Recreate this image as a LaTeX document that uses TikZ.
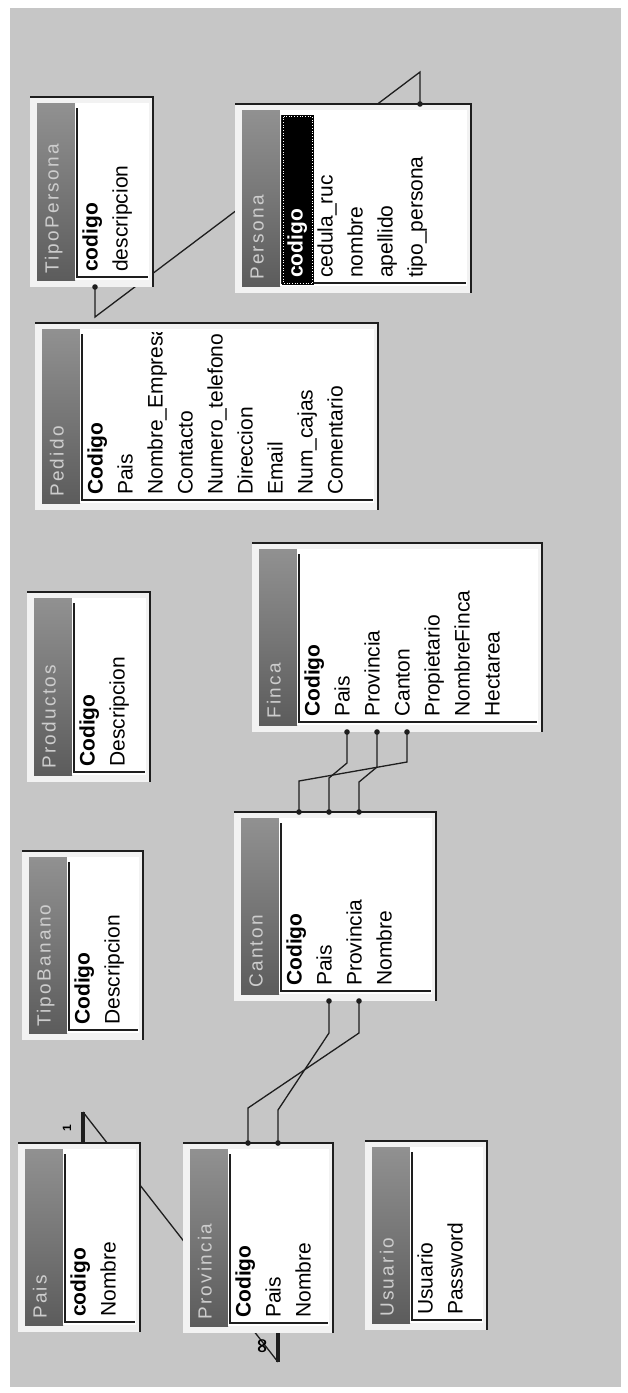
\documentclass[tikz,border=0pt]{standalone}
\usepackage{fontspec}
\setmainfont{Liberation Sans}
\newfontfamily\titlefont[LetterSpace=12]{Liberation Sans}
\newfontfamily\symbfont{DejaVu Sans}
\pgfdeclarelayer{back}
\pgfdeclarelayer{lines}
\pgfsetlayers{back,lines,main}
\definecolor{bggray}{RGB}{198,198,198}
\definecolor{boxlight}{RGB}{242,242,242}
\definecolor{titledark}{RGB}{92,92,92}
\definecolor{titlelight}{RGB}{145,145,145}
\definecolor{titlefg}{RGB}{205,205,205}
\definecolor{linecol}{RGB}{30,30,30}
\tikzset{
  tablebox/.style={fill=boxlight, draw=none, inner sep=0pt, outer sep=0pt},
  frameline/.style={line width=2.5pt, draw=linecol},
  innerline/.style={line width=1.6pt, draw=linecol},
  fieldtext/.style={rotate=90, anchor=mid west, inner sep=0pt, font=\fontsize{21}{23}\selectfont, text=black},
  titletext/.style={rotate=90, anchor=mid west, inner sep=0pt, font=\titlefont\fontsize{19}{22}\selectfont, text=titlefg},
  rel/.style={line width=1.3pt, draw=linecol},
  relthick/.style={line width=4pt, draw=linecol},
  reldot/.style={fill=linecol, draw=none},
}
% #1 name, #2 L, #3 T, #4 R, #5 B, #6 title, #7 fields, #8 extra
\newcommand\dbtable[8]{%
  \node[tablebox, anchor=north west, minimum width={(#4-#2)*1pt}, minimum height={(#5-#3)*1pt}] (#1) at (#2,#3) {};
  \shade[top color=titlelight, bottom color=titledark] ({#2+7},{#3+6}) rectangle ({#2+45},{#5-7});
  \fill[white] ({#2+45},{#3+6}) rectangle ({#4-4},{#5-7});
  \draw[innerline] ({#2+47},{#3+11}) -- ({#2+47},{#5-10}) -- ({#4-5},{#5-10});
  \draw[frameline] (#1.north west) -- (#1.north east) -- (#1.south east);
  \node[titletext] (#1-title) at ({#2+26},{#5-13}) {#6};
  #8
  \begin{scope}
    \clip ({#2+49},{#3+9}) rectangle ({#4-5},{#5-11});
    \foreach \f [count=\i from 0] in {#7} {
      \node[fieldtext] (#1-\i) at ({#2+65+30*\i},{#5-15}) {\f};
      \coordinate (#1-f\i) at ({#2+65+30*\i},{#5});
    }
  \end{scope}
}
\begin{document}
\begin{tikzpicture}[x=1pt, y=-1pt]
\useasboundingbox (0,0) rectangle (627,1393);
\begin{pgfonlayer}{back}
  \fill[white] (0,0) rectangle (627,1393);
  \fill[bggray] (10,8) rectangle (621,1387);
\end{pgfonlayer}

\dbtable{pais}{18}{1143}{140}{1332}{Pais}{{\bfseries codigo},Nombre}{}
\dbtable{provincia}{183}{1143}{333}{1333}{Provincia}{{\bfseries Codigo},Pais,Nombre}{}
\dbtable{usuario}{365}{1141}{487}{1330}{Usuario}{Usuario,Password}{}
\dbtable{tipobanano}{22}{851}{143}{1040}{TipoBanano}{{\bfseries Codigo},Descripcion}{}
\dbtable{canton}{234}{812}{436}{1001}{Canton}{{\bfseries Codigo},Pais,Provincia,Nombre}{}
\dbtable{productos}{27}{592}{150}{782}{Productos}{{\bfseries Codigo},Descripcion}{}
\dbtable{finca}{252}{543}{542}{732}{Finca}{{\bfseries Codigo},Pais,Provincia,Canton,Propietario,NombreFinca,Hectarea}{}
\dbtable{pedido}{35}{323}{378}{510}{Pedido}{{\bfseries Codigo},Pais,Nombre\_Empresa,Contacto,Numero\_telefono,Direccion,Email,Num\_cajas,Comentario}{}
\dbtable{tipopersona}{30}{97}{153}{287}{TipoPersona}{{\bfseries codigo},descripcion}{}
\dbtable{persona}{235}{104}{471}{293}{Persona}{{\color{white}\bfseries codigo},cedula\_ruc,nombre,apellido,tipo\_persona}{%
  \fill[black] (282,115) rectangle (314,285);
  \draw[white, dotted, line width=0.7pt] (283.5,116.5) rectangle (312.5,283.5);}

% relationship paths
\path (pais.north -| pais-f0) coordinate (r1s) ++(0,-31) coordinate (r1a);
\path (provincia.south -| provincia-f1) coordinate (r1e) ++(0,29) coordinate (r1b);
\path (provincia.north -| provincia-f0) coordinate (r2s) ++(0,-35) coordinate (r2a);
\path (canton.south -| canton-f2) coordinate (r2e) ++(0,32) coordinate (r2b);
\path (provincia.north -| provincia-f1) coordinate (r3s) ++(0,-33) coordinate (r3a);
\path (canton.south -| canton-f1) coordinate (r3e) ++(0,32) coordinate (r3b);
\path (canton.north -| canton-f0) coordinate (r4s) ++(0,-31) coordinate (r4a);
\path (finca.south -| finca-f3) coordinate (r4e) ++(0,30) coordinate (r4b);
\path (canton.north -| canton-f1) coordinate (r5s) ++(0,-34) coordinate (r5a);
\path (finca.south -| finca-f1) coordinate (r5e) ++(0,31) coordinate (r5b);
\path (canton.north -| canton-f2) coordinate (r6s) ++(0,-30) coordinate (r6a);
\path (finca.south -| finca-f2) coordinate (r6e) ++(0,35) coordinate (r6b);
\path (tipopersona.south -| tipopersona-f0) coordinate (r7s) ++(0,30) coordinate (r7a);
\path (persona.north -| persona-f4) coordinate (r7e) ++(0,-32) coordinate (r7b);

\begin{pgfonlayer}{lines}
  \draw[relthick] (r1s) -- (r1a);
  \draw[rel] (r1a) -- (r1b);
  \draw[relthick] (r1e) -- (r1b);
  \draw[rel] (r2s) -- (r2a) -- (r2b) -- (r2e);
  \draw[rel] (r3s) -- (r3a) -- (r3b) -- (r3e);
  \draw[rel] (r4s) -- (r4a) -- (r4b) -- (r4e);
  \draw[rel] (r5s) -- (r5a) -- (r5b) -- (r5e);
  \draw[rel] (r6s) -- (r6a) -- (r6b) -- (r6e);
  \draw[rel] (r7s) -- (r7a) -- (r7b) -- (r7e);
\end{pgfonlayer}

\foreach \pt in {r2s,r2e,r3s,r3e,r4s,r4e,r5s,r5e,r6s,r6e,r7s,r7e}
  \fill[reldot] (\pt) circle (2.8pt);

\node[rotate=90, inner sep=0pt, font=\bfseries\fontsize{12}{12}\selectfont] (onelbl) at (67,1128) {1};
\node[rotate=90, inner sep=0pt, font=\symbfont\bfseries\fontsize{20}{20}\selectfont] (manylbl) at (263,1346) {∞};
\end{tikzpicture}
\end{document}
